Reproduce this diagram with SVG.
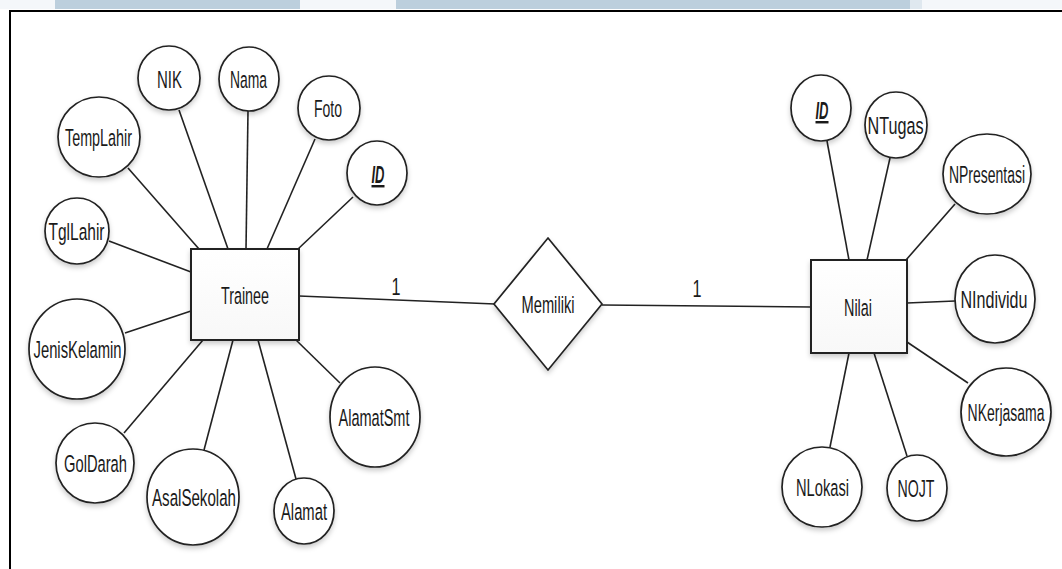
<svg xmlns="http://www.w3.org/2000/svg" width="1062" height="569" viewBox="0 0 1062 569">
  <defs>
    <filter id="shadow" x="-20%" y="-20%" width="140%" height="150%">
      <feDropShadow dx="0" dy="3" stdDeviation="2.5" flood-color="#000" flood-opacity="0.2"/>
    </filter>
    <linearGradient id="boxFill" x1="0" y1="0" x2="0" y2="1">
      <stop offset="0" stop-color="#ffffff"/>
      <stop offset="1" stop-color="#f8f8f8"/>
    </linearGradient>
  </defs>
  <style>
    .attr { fill: #ffffff; stroke: #222222; stroke-width: 1.7; filter: url(#shadow); }
    .entity { fill: url(#boxFill); stroke: #222222; stroke-width: 2; filter: url(#shadow); }
    .rel { fill: #ffffff; stroke: #222222; stroke-width: 1.7; filter: url(#shadow); }
    .link { stroke: #222222; stroke-width: 1.6; fill: none; }
    .lbl { font-family: "Liberation Sans", Arial, sans-serif; font-size: 24.5px; fill: #1a1a1a; text-anchor: middle; }
    .key { font-weight: bold; font-style: italic; text-decoration: underline; }
    .frame { stroke: #000000; stroke-width: 2; fill: none; }
  </style>

  <!-- page header bands and frame -->
  <rect x="0" y="0" width="1062" height="9" fill="#f4f7fa"/>
  <rect x="55" y="0" width="245" height="9" fill="#bccfdd"/>
  <rect x="396" y="0" width="514" height="9" fill="#bccfdd"/>
  <rect x="910" y="0" width="12" height="9" fill="#dfe8ef"/>
  <path class="frame" d="M10 569 V11 H1062"/>

  <!-- connectors -->
  <g id="connectors">
    <line class="link" x1="128" y1="168" x2="199" y2="249"/>
    <line class="link" x1="179" y1="110" x2="228" y2="249"/>
    <line class="link" x1="248" y1="111" x2="246" y2="249"/>
    <line class="link" x1="315" y1="139" x2="267" y2="249"/>
    <line class="link" x1="353" y1="197" x2="298" y2="249"/>
    <line class="link" x1="109" y1="241" x2="191" y2="272"/>
    <line class="link" x1="125" y1="333" x2="191" y2="311"/>
    <line class="link" x1="124" y1="433" x2="203" y2="340"/>
    <line class="link" x1="204" y1="450" x2="233" y2="340"/>
    <line class="link" x1="296" y1="479" x2="258" y2="340"/>
    <line class="link" x1="340" y1="383" x2="296" y2="340"/>
    <line class="link" x1="299" y1="296" x2="495" y2="304"/>
    <line class="link" x1="602" y1="305" x2="811" y2="307"/>
    <line class="link" x1="827" y1="141" x2="849" y2="260"/>
    <line class="link" x1="890" y1="158" x2="867" y2="260"/>
    <line class="link" x1="955" y1="204" x2="906" y2="260"/>
    <line class="link" x1="907" y1="303" x2="955" y2="301"/>
    <line class="link" x1="907" y1="342" x2="968" y2="383"/>
    <line class="link" x1="849" y1="353" x2="830" y2="447"/>
    <line class="link" x1="874" y1="353" x2="907" y2="456"/>
    <text class="lbl" x="396" y="295" textLength="9" lengthAdjust="spacingAndGlyphs">1</text>
    <text class="lbl" x="697" y="297" textLength="9" lengthAdjust="spacingAndGlyphs">1</text>
  </g>

  <!-- entity: Trainee -->
  <g id="trainee">
    <rect class="entity" x="191" y="249" width="108" height="91"/>
    <text class="lbl" x="245" y="304" textLength="48" lengthAdjust="spacingAndGlyphs">Trainee</text>
  </g>

  <!-- relationship -->
  <g id="memiliki">
    <polygon class="rel" points="548,238 602,304 548,370 494,304"/>
    <text class="lbl" x="548" y="313" textLength="53" lengthAdjust="spacingAndGlyphs">Memiliki</text>
  </g>

  <!-- entity: Nilai -->
  <g id="nilai">
    <rect class="entity" x="811" y="260" width="96" height="93"/>
    <text class="lbl" x="858" y="316" textLength="28" lengthAdjust="spacingAndGlyphs">Nilai</text>
  </g>

  <!-- Trainee attributes -->
  <g id="trainee-nik">
    <ellipse class="attr" cx="169" cy="78" rx="31" ry="32"/>
    <text class="lbl" x="169.5" y="88" textLength="25" lengthAdjust="spacingAndGlyphs">NIK</text>
  </g>
  <g id="trainee-nama">
    <ellipse class="attr" cx="249" cy="79" rx="30" ry="32"/>
    <text class="lbl" x="248.5" y="88" textLength="37" lengthAdjust="spacingAndGlyphs">Nama</text>
  </g>
  <g id="trainee-foto">
    <ellipse class="attr" cx="329" cy="108" rx="31" ry="32"/>
    <text class="lbl" x="328" y="117" textLength="28" lengthAdjust="spacingAndGlyphs">Foto</text>
  </g>
  <g id="trainee-id">
    <ellipse class="attr" cx="377" cy="173" rx="30" ry="32"/>
    <text class="lbl key" x="378" y="183" textLength="13" lengthAdjust="spacingAndGlyphs">ID</text>
  </g>
  <g id="trainee-templahir">
    <ellipse class="attr" cx="99" cy="137" rx="41" ry="40"/>
    <text class="lbl" x="98.5" y="146" textLength="67" lengthAdjust="spacingAndGlyphs">TempLahir</text>
  </g>
  <g id="trainee-tgllahir">
    <ellipse class="attr" cx="77" cy="231" rx="32" ry="33"/>
    <text class="lbl" x="76.5" y="240" textLength="56" lengthAdjust="spacingAndGlyphs">TglLahir</text>
  </g>
  <g id="trainee-jeniskelamin">
    <ellipse class="attr" cx="77" cy="349" rx="48" ry="50"/>
    <text class="lbl" x="77.5" y="358" textLength="88" lengthAdjust="spacingAndGlyphs">JenisKelamin</text>
  </g>
  <g id="trainee-goldarah">
    <ellipse class="attr" cx="95" cy="463" rx="39" ry="40"/>
    <text class="lbl" x="95.5" y="472" textLength="63" lengthAdjust="spacingAndGlyphs">GolDarah</text>
  </g>
  <g id="trainee-asalsekolah">
    <ellipse class="attr" cx="193" cy="497" rx="46" ry="48"/>
    <text class="lbl" x="194" y="506" textLength="84" lengthAdjust="spacingAndGlyphs">AsalSekolah</text>
  </g>
  <g id="trainee-alamat">
    <ellipse class="attr" cx="304" cy="511" rx="30" ry="33"/>
    <text class="lbl" x="304" y="520" textLength="46" lengthAdjust="spacingAndGlyphs">Alamat</text>
  </g>
  <g id="trainee-alamatsmt">
    <ellipse class="attr" cx="375" cy="417" rx="45" ry="50"/>
    <text class="lbl" x="374" y="426" textLength="71" lengthAdjust="spacingAndGlyphs">AlamatSmt</text>
  </g>

  <!-- Nilai attributes -->
  <g id="nilai-id">
    <ellipse class="attr" cx="821" cy="108" rx="30" ry="33"/>
    <text class="lbl key" x="822" y="119" textLength="13" lengthAdjust="spacingAndGlyphs">ID</text>
  </g>
  <g id="nilai-ntugas">
    <ellipse class="attr" cx="896" cy="125" rx="31" ry="33"/>
    <text class="lbl" x="895.5" y="134" textLength="56" lengthAdjust="spacingAndGlyphs">NTugas</text>
  </g>
  <g id="nilai-npresentasi">
    <ellipse class="attr" cx="987" cy="174" rx="44" ry="40"/>
    <text class="lbl" transform="translate(987 183) scale(0.57 1)">NPresentasi</text>
  </g>
  <g id="nilai-nindividu">
    <ellipse class="attr" cx="995" cy="299" rx="40" ry="44"/>
    <text class="lbl" x="994" y="308" textLength="67" lengthAdjust="spacingAndGlyphs">NIndividu</text>
  </g>
  <g id="nilai-nkerjasama">
    <ellipse class="attr" cx="1006" cy="412" rx="45" ry="44"/>
    <text class="lbl" transform="translate(1006 421) scale(0.571 1)">NKerjasama</text>
  </g>
  <g id="nilai-nlokasi">
    <ellipse class="attr" cx="822" cy="487" rx="40" ry="40"/>
    <text class="lbl" x="822.5" y="496" textLength="53" lengthAdjust="spacingAndGlyphs">NLokasi</text>
  </g>
  <g id="nilai-nojt">
    <ellipse class="attr" cx="917" cy="488" rx="30" ry="33"/>
    <text class="lbl" x="916" y="497" textLength="37" lengthAdjust="spacingAndGlyphs">NOJT</text>
  </g>
</svg>
